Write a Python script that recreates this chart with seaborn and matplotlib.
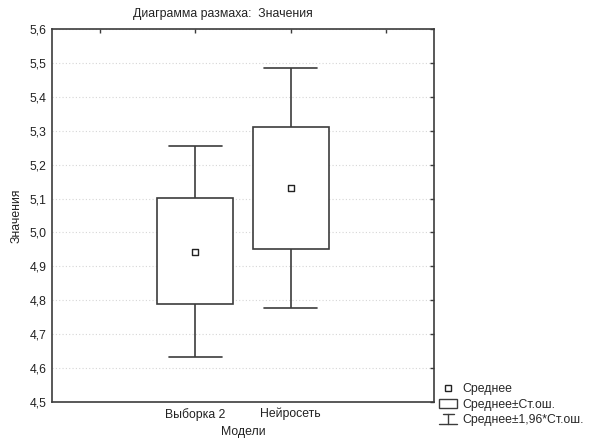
import pandas as pd
import matplotlib
matplotlib.use("Agg")
import matplotlib.pyplot as plt
import seaborn as sns
from matplotlib.lines import Line2D
from matplotlib.patches import Patch
from matplotlib.legend_handler import HandlerBase
from matplotlib.ticker import FuncFormatter, MultipleLocator

# Values (mean, mean±SE, mean±1.96*SE)
categories = ["Выборка 2", "Нейросеть"]
means = [4.943, 5.132]
se_low = [4.788, 4.951]
se_high = [5.102, 5.311]
ci_low = [4.633, 4.778]
ci_high = [5.256, 5.485]

title = "Диаграмма размаха:  Значения"
y_label = "Значения"
x_label = "Модели"
legend_labels = ["Среднее", "Среднее±Ст.ош.", "Среднее±1,96*Ст.ош."]

# Five points per group -> with whis=(0, 100) the box is se_low..se_high
# and the whiskers reach ci_low..ci_high
rows = []
for i, cat in enumerate(categories):
    for v in (ci_low[i], se_low[i], means[i], se_high[i], ci_high[i]):
        rows.append({"model": cat, "value": v})
df = pd.DataFrame(rows)

sns.set_style("white")
plt.rcParams["font.family"] = ["Liberation Sans", "DejaVu Sans"]
fs = 8.8
plt.rcParams["font.size"] = fs

line_col = "#3c3c3c"
text_col = "#222222"

fig = plt.figure(figsize=(5.9, 4.41), dpi=100)
ax = fig.add_axes([0.0881, 0.0884, 0.6475, 0.8458])

sns.boxplot(data=df, x="model", y="value", order=categories, ax=ax,
            whis=(0, 100), width=0.8, color="white", linecolor=line_col,
            linewidth=1.2, medianprops=dict(visible=False), capwidths=0.55,
            fill=True)
sns.scatterplot(x=categories, y=means, ax=ax, marker="s", s=18,
                color="white", edgecolor=text_col, linewidth=1.0, zorder=5)

ax.set_xlim(-1.5, 2.5)
ax.set_xticks([-1, 0, 1, 2])
ax.set_xticklabels([""] + categories + [""])
ax.set_ylim(4.5, 5.6)
ax.yaxis.set_major_locator(MultipleLocator(0.1))
ax.yaxis.set_major_formatter(FuncFormatter(lambda v, p: f"{v:.1f}".replace(".", ",")))

ax.yaxis.grid(True, linestyle=(0, (1, 2)), color="#d6d6d6", linewidth=0.8)
ax.set_axisbelow(True)
ax.tick_params(direction="in", top=True, right=True, length=3, width=1,
               color=line_col, labelsize=fs, labelcolor=text_col, pad=4)
for s in ax.spines.values():
    s.set_color(line_col)
    s.set_linewidth(1.2)

ax.set_xlabel(x_label, fontsize=fs, color=text_col, labelpad=4)
ax.set_ylabel(y_label, fontsize=fs, color=text_col, labelpad=5)

fig.text(133 / 590, 1 - 14 / 441, title, fontsize=fs, color=text_col,
         ha="left", va="center")


class WhiskerHandler(HandlerBase):
    def create_artists(self, legend, orig_handle, xdescent, ydescent,
                       width, height, fontsize, trans):
        x0 = -xdescent
        y0 = -ydescent
        cx = x0 + width / 2
        top = y0 + height
        parts = [
            Line2D([x0 + 0.2 * width, x0 + 0.8 * width], [top, top]),
            Line2D([cx, cx], [top, y0]),
            Line2D([x0, x0 + width], [y0, y0]),
        ]
        for p in parts:
            p.set_color(line_col)
            p.set_linewidth(1.0)
            p.set_transform(trans)
        return parts


class WhiskerKey:
    pass


handles = [
    Line2D([], [], marker="s", linestyle="none", markersize=4.3,
           markerfacecolor="white", markeredgecolor=text_col, markeredgewidth=1.0),
    Patch(facecolor="white", edgecolor=line_col, linewidth=1.0),
    WhiskerKey(),
]
fig.legend(handles, legend_labels, loc="upper left",
           bbox_to_anchor=(439 / 590, 1 - 383 / 441), frameon=False,
           fontsize=fs, handlelength=1.5, handleheight=0.85, handletextpad=0.45,
           labelspacing=0.28, borderpad=0.0, borderaxespad=0.0,
           handler_map={WhiskerKey: WhiskerHandler()})

fig.savefig("out.png", dpi=100, facecolor="white")
